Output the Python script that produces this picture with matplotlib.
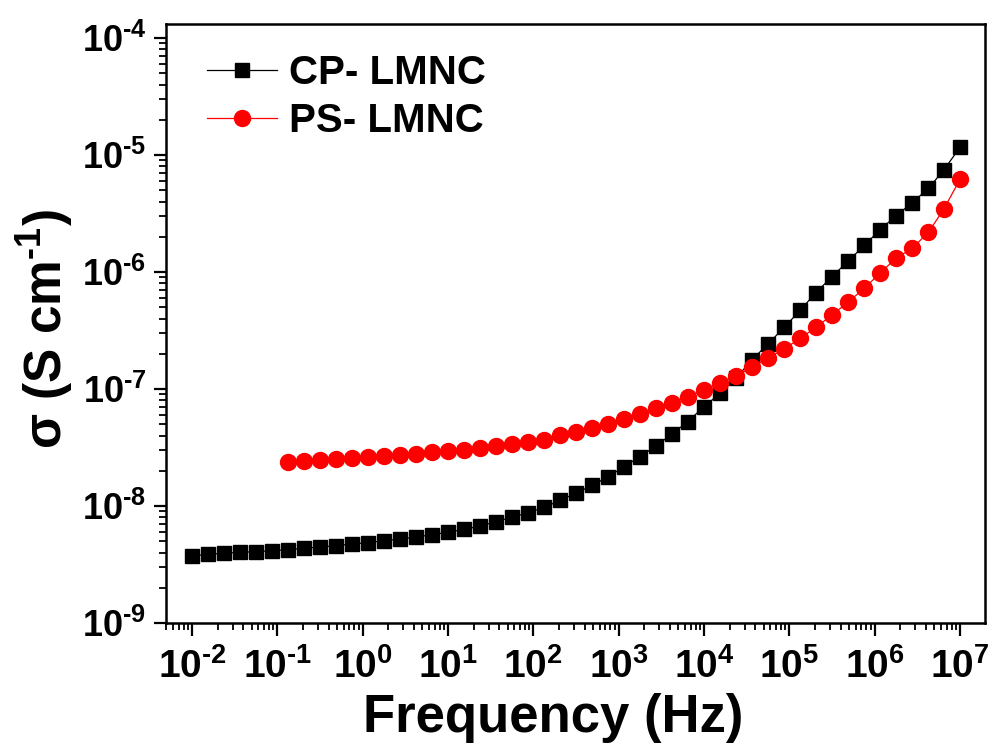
import matplotlib
matplotlib.use("Agg")
import numpy as np
import matplotlib.pyplot as plt
from matplotlib.ticker import LogLocator, NullFormatter, FuncFormatter

plt.rcParams['font.family'] = ['Liberation Sans', 'DejaVu Sans']
plt.rcParams['font.weight'] = 'bold'
plt.rcParams['mathtext.fontset'] = 'custom'
plt.rcParams['mathtext.rm'] = 'Liberation Sans:bold'
plt.rcParams['mathtext.bf'] = 'Liberation Sans:bold'
plt.rcParams['mathtext.it'] = 'Liberation Sans:bold'
plt.rcParams['mathtext.default'] = 'bf'

# log10 of frequency (Hz), one sweep shared by both samples
log_freq = [-2.0, -1.81, -1.63, -1.44, -1.25, -1.06, -0.88, -0.69, -0.5, -0.31,
            -0.13, 0.06, 0.25, 0.44, 0.63, 0.81, 1.0, 1.19, 1.38, 1.56,
            1.75, 1.94, 2.13, 2.31, 2.5, 2.69, 2.88, 3.06, 3.25, 3.44,
            3.63, 3.81, 4.0, 4.19, 4.38, 4.56, 4.75, 4.94, 5.13, 5.31,
            5.5, 5.69, 5.88, 6.06, 6.25, 6.44, 6.63, 6.81, 7.0]

# log10 of conductivity (S/cm)
log_sigma_cp = [-8.427, -8.413, -8.404, -8.396, -8.391, -8.382, -8.374, -8.362, -8.350, -8.339,
                -8.325, -8.314, -8.297, -8.282, -8.265, -8.245, -8.225, -8.199, -8.171, -8.134,
                -8.097, -8.057, -8.011, -7.953, -7.891, -7.823, -7.750, -7.664, -7.579, -7.485,
                -7.382, -7.279, -7.151, -7.037, -6.903, -6.752, -6.615, -6.473, -6.325, -6.177,
                -6.040, -5.906, -5.772, -5.641, -5.519, -5.408, -5.285, -5.128, -4.934]

# PS sample starts at the 7th frequency of the sweep
ps_start = 6
log_sigma_ps = [-7.621, -7.615, -7.609, -7.601, -7.592, -7.584, -7.573, -7.564, -7.553, -7.541,
                -7.530, -7.519, -7.507, -7.490, -7.473, -7.453, -7.436, -7.397, -7.370, -7.336,
                -7.299, -7.256, -7.214, -7.165, -7.117, -7.066, -7.009, -6.951, -6.886, -6.814,
                -6.737, -6.656, -6.567, -6.473, -6.368, -6.256, -6.139, -6.011, -5.883, -5.797,
                -5.661, -5.462, -5.208]

freq = [10 ** v for v in log_freq]
sigma_cp = [10 ** v for v in log_sigma_cp]
sigma_ps = [10 ** v for v in log_sigma_ps]


def pow_label(v, pos):
    e = int(round(np.log10(v)))
    s = str(e).replace('-', r'\text{-}')
    return r'$10^{' + s + '}$'


fig = plt.figure(figsize=(9.92, 7.47), dpi=100)
ax = fig.add_axes([0.1673, 0.166, 0.8257, 0.802])

ax.plot(freq, sigma_cp, '-s', color='black', lw=0.9, ms=10.5, label='CP- LMNC')
ax.plot(freq[ps_start:], sigma_ps, '-o', color='red', lw=0.9, ms=11.5, label='PS- LMNC')

ax.set_xscale('log')
ax.set_yscale('log')
ax.set_xlim(10 ** -2.305, 10 ** 7.293)
ax.set_ylim(1e-9, 10 ** -3.88)

ax.xaxis.set_major_locator(LogLocator(base=10, numticks=20))
ax.xaxis.set_minor_locator(LogLocator(base=10, subs=range(2, 10), numticks=20))
ax.yaxis.set_major_locator(LogLocator(base=10, numticks=20))
ax.yaxis.set_minor_locator(LogLocator(base=10, subs=range(2, 10), numticks=20))
ax.xaxis.set_major_formatter(FuncFormatter(pow_label))
ax.yaxis.set_major_formatter(FuncFormatter(pow_label))
ax.xaxis.set_minor_formatter(NullFormatter())
ax.yaxis.set_minor_formatter(NullFormatter())

ax.tick_params(which='major', direction='out', length=9, width=1.6, top=False, right=False)
ax.tick_params(which='minor', direction='out', length=5, width=1.3, top=False, right=False)
ax.tick_params(axis='x', which='major', labelsize=28, pad=9)
ax.tick_params(axis='y', which='major', labelsize=26, pad=5)
for s in ax.spines.values():
    s.set_linewidth(1.8)

ax.set_xlabel('Frequency (Hz)', fontsize=38, fontweight='bold', labelpad=5)
ax.xaxis.label.set_x(0.473)
ax.set_ylabel('σ (S cm$^{\\text{-}1}$)', fontsize=37, fontweight='bold', labelpad=4)
ax.yaxis.label.set_y(0.49)

leg = ax.legend(loc='upper left', bbox_to_anchor=(0.02, 0.99), frameon=False,
                fontsize=29, handlelength=1.75, handletextpad=0.3, labelspacing=0.25,
                borderaxespad=0.2)
for t in leg.get_texts():
    t.set_fontweight('bold')

fig.savefig('out.png', dpi=100)
